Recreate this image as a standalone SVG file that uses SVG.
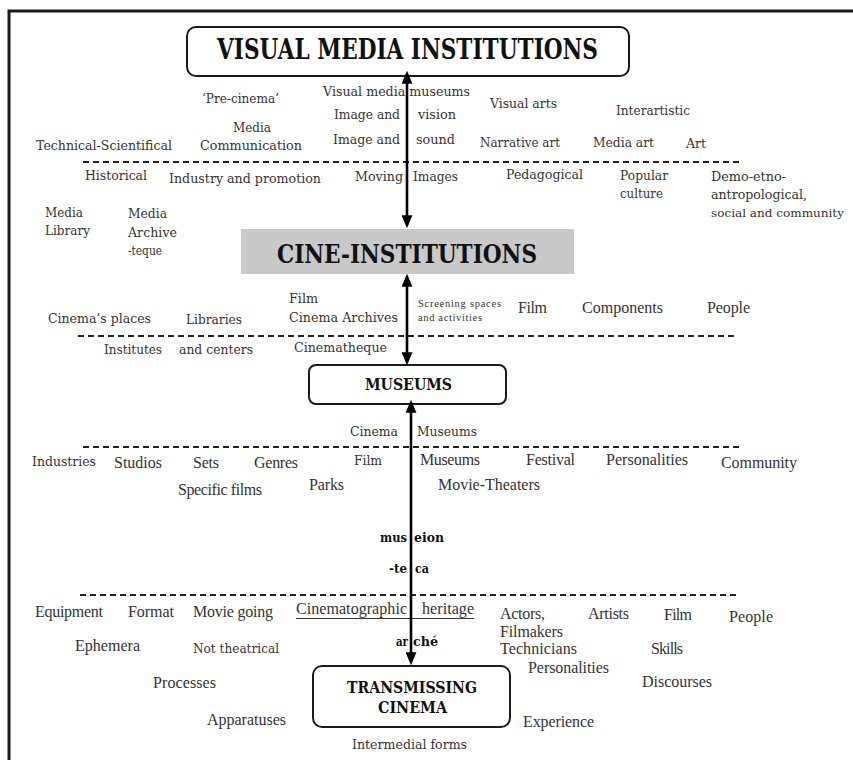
<svg xmlns="http://www.w3.org/2000/svg" width="853" height="760" viewBox="0 0 853 760">
<defs>
<style>
.a{font-family:"DejaVu Serif","Liberation Serif",serif;font-size:13.8px;fill:#333}
.b{font-family:"Liberation Serif","DejaVu Serif",serif;font-size:16px;fill:#333}
.c{font-family:"Liberation Serif","DejaVu Serif",serif;font-size:10.5px;fill:#333}
.k{font-family:"DejaVu Serif","Liberation Serif",serif;font-size:13.5px;font-weight:bold;fill:#111}
.h{font-family:"DejaVu Serif","Liberation Serif",serif;font-weight:bold;fill:#111}
.box{fill:#fff;stroke:#1a1a1a;stroke-width:2}
.dash{stroke:#222;stroke-width:2;stroke-dasharray:6 4;fill:none}
.arr{stroke:#000;stroke-width:2.6;fill:none;marker-start:url(#ah);marker-end:url(#ah)}
</style>
<marker id="ah" viewBox="0 0 12 10" refX="9" refY="5" markerWidth="13" markerHeight="11" markerUnits="userSpaceOnUse" orient="auto-start-reverse">
<path d="M0,0 L12,5 L0,10 z" fill="#000"/>
</marker>
</defs>
<rect width="853" height="760" fill="#fff"/>
<path d="M9,770 V11 H860" fill="none" stroke="#1a1a1a" stroke-width="3"/>

<g id="separators">
<line class="dash" x1="83" y1="162" x2="742" y2="162"/>
<line class="dash" x1="78" y1="336" x2="737" y2="336"/>
<line class="dash" x1="83" y1="447" x2="742" y2="447"/>
<line class="dash" x1="80" y1="595" x2="737" y2="595"/>
</g>

<g id="visual-media-institutions">
<rect class="box" x="187" y="27" width="442" height="49" rx="9"/>
<text class="h" x="217" y="59" font-size="27" textLength="381" lengthAdjust="spacingAndGlyphs">VISUAL MEDIA INSTITUTIONS</text>
</g>
<g id="cine-institutions">
<rect x="241" y="229" width="333" height="45" fill="#c9c9c9"/>
<text class="h" x="277" y="263" font-size="26" textLength="260" lengthAdjust="spacingAndGlyphs">CINE-INSTITUTIONS</text>
</g>
<g id="museums">
<rect class="box" x="309" y="365" width="197" height="39" rx="7"/>
<text class="h" x="365" y="390" font-size="16.5" textLength="87" lengthAdjust="spacingAndGlyphs">MUSEUMS</text>
</g>
<g id="transmissing-cinema">
<rect class="box" x="313" y="666" width="197" height="61" rx="9"/>
<text class="h" font-size="16.5"><tspan x="347" y="693" textLength="130" lengthAdjust="spacingAndGlyphs">TRANSMISSING</tspan> <tspan x="378" y="713" textLength="69" lengthAdjust="spacingAndGlyphs">CINEMA</tspan></text>
</g>

<g id="labels-visual-media">
<text class="a" x="202" y="103" textLength="77" lengthAdjust="spacingAndGlyphs">‘Pre-cinema’</text>
<text class="a" x="323" y="96" textLength="147" lengthAdjust="spacingAndGlyphs">Visual media museums</text>
<text class="a"><tspan x="334" y="119" textLength="66" lengthAdjust="spacingAndGlyphs">Image and</tspan> <tspan x="418" y="119" textLength="38" lengthAdjust="spacingAndGlyphs">vision</tspan></text>
<text class="a"><tspan x="333" y="144" textLength="67" lengthAdjust="spacingAndGlyphs">Image and</tspan> <tspan x="416" y="144" textLength="39" lengthAdjust="spacingAndGlyphs">sound</tspan></text>
<text class="a"><tspan x="233" y="132" textLength="38" lengthAdjust="spacingAndGlyphs">Media</tspan> <tspan x="200" y="150" textLength="102" lengthAdjust="spacingAndGlyphs">Communication</tspan></text>
<text class="a" x="36" y="150" textLength="136" lengthAdjust="spacingAndGlyphs">Technical-Scientifical</text>
<text class="a" x="490" y="108" textLength="67" lengthAdjust="spacingAndGlyphs">Visual arts</text>
<text class="a" x="616" y="115" textLength="74" lengthAdjust="spacingAndGlyphs">Interartistic</text>
<text class="a" x="480" y="147" textLength="80" lengthAdjust="spacingAndGlyphs">Narrative art</text>
<text class="a" x="593" y="147" textLength="61" lengthAdjust="spacingAndGlyphs">Media art</text>
<text class="a" x="686" y="148" textLength="20" lengthAdjust="spacingAndGlyphs">Art</text>
</g>

<g id="labels-cine-institutions-upper">
<text class="a" x="85" y="180" textLength="62" lengthAdjust="spacingAndGlyphs">Historical</text>
<text class="a" x="169" y="183" textLength="152" lengthAdjust="spacingAndGlyphs">Industry and promotion</text>
<text class="a"><tspan x="355" y="181" textLength="48" lengthAdjust="spacingAndGlyphs">Moving</tspan> <tspan x="413" y="181" textLength="45" lengthAdjust="spacingAndGlyphs">Images</tspan></text>
<text class="a" x="506" y="179" textLength="77" lengthAdjust="spacingAndGlyphs">Pedagogical</text>
<text class="a"><tspan x="620" y="180" textLength="48" lengthAdjust="spacingAndGlyphs">Popular</tspan> <tspan x="620" y="198" textLength="43" lengthAdjust="spacingAndGlyphs">culture</tspan></text>
<text class="a"><tspan x="711" y="181" textLength="75" lengthAdjust="spacingAndGlyphs">Demo-etno-</tspan> <tspan x="711" y="199" textLength="96" lengthAdjust="spacingAndGlyphs">antropological,</tspan></text>
<text class="a" x="711" y="217" style="font-size:11.8px" textLength="133" lengthAdjust="spacingAndGlyphs">social and community</text>
<text class="a"><tspan x="45" y="217" textLength="38" lengthAdjust="spacingAndGlyphs">Media</tspan> <tspan x="45" y="235" textLength="45" lengthAdjust="spacingAndGlyphs">Library</tspan></text>
<text class="a"><tspan x="128" y="218" textLength="39" lengthAdjust="spacingAndGlyphs">Media</tspan> <tspan x="128" y="237" textLength="49" lengthAdjust="spacingAndGlyphs">Archive</tspan> <tspan x="128" y="255" textLength="34" lengthAdjust="spacingAndGlyphs">-teque</tspan></text>
</g>

<g id="labels-cine-institutions-lower">
<text class="a"><tspan x="289" y="303" textLength="29" lengthAdjust="spacingAndGlyphs">Film</tspan> <tspan x="289" y="322" textLength="109" lengthAdjust="spacingAndGlyphs">Cinema Archives</tspan></text>
<text class="a" x="48" y="323" textLength="103" lengthAdjust="spacingAndGlyphs">Cinema’s places</text>
<text class="a" x="186" y="324" textLength="56" lengthAdjust="spacingAndGlyphs">Libraries</text>
<text class="c"><tspan x="418" y="307" textLength="83">Screening spaces</tspan> <tspan x="418" y="321" textLength="64">and activities</tspan></text>
<text class="b" x="518" y="313" textLength="29">Film</text>
<text class="b" x="582" y="313" textLength="81">Components</text>
<text class="b" x="707" y="313" textLength="43">People</text>
<text class="a"><tspan x="104" y="354" textLength="58" lengthAdjust="spacingAndGlyphs">Institutes</tspan> <tspan x="179" y="354" textLength="74" lengthAdjust="spacingAndGlyphs">and centers</tspan></text>
<text class="a" x="294" y="352" textLength="93" lengthAdjust="spacingAndGlyphs">Cinematheque</text>
</g>

<g id="labels-museums">
<text class="a"><tspan x="350" y="436" textLength="48" lengthAdjust="spacingAndGlyphs">Cinema</tspan> <tspan x="417" y="436" textLength="60" lengthAdjust="spacingAndGlyphs">Museums</tspan></text>
<text class="a" x="32" y="466" textLength="64" lengthAdjust="spacingAndGlyphs">Industries</text>
<text class="b" x="114" y="468" textLength="48">Studios</text>
<text class="b" x="193" y="468" textLength="26">Sets</text>
<text class="b" x="254" y="468" textLength="44">Genres</text>
<text class="a" x="354" y="465" textLength="28" lengthAdjust="spacingAndGlyphs">Film</text>
<text class="b" x="420" y="465" textLength="60">Museums</text>
<text class="b" x="526" y="465" textLength="49">Festival</text>
<text class="b" x="606" y="465" textLength="82">Personalities</text>
<text class="b" x="721" y="468" textLength="76">Community</text>
<text class="b" x="178" y="495" textLength="84">Specific films</text>
<text class="b" x="309" y="490" textLength="35">Parks</text>
<text class="b" x="438" y="490" textLength="102">Movie-Theaters</text>
</g>

<g id="labels-etymology">
<text class="k"><tspan x="380" y="542" textLength="27" lengthAdjust="spacingAndGlyphs">mus</tspan><tspan x="414" y="542" textLength="30" lengthAdjust="spacingAndGlyphs">eion</tspan></text>
<text class="k"><tspan x="389" y="573" textLength="18" lengthAdjust="spacingAndGlyphs">-te</tspan><tspan x="415" y="573" textLength="14" lengthAdjust="spacingAndGlyphs">ca</tspan></text>
<text class="k"><tspan x="396" y="646" textLength="12" lengthAdjust="spacingAndGlyphs">ar</tspan><tspan x="413" y="646" textLength="25" lengthAdjust="spacingAndGlyphs">ché</tspan></text>
</g>

<g id="labels-transmissing">
<text class="b" x="35" y="617" textLength="68">Equipment</text>
<text class="b" x="128" y="617" textLength="46">Format</text>
<text class="b" x="193" y="617" textLength="80">Movie going</text>
<text class="b"><tspan x="296" y="614" textLength="111">Cinematographic</tspan> <tspan x="422" y="614" textLength="52">heritage</tspan></text>
<line x1="296" y1="618.5" x2="474" y2="618.5" stroke="#333" stroke-width="1"/>
<text class="b"><tspan x="500" y="619" textLength="45">Actors,</tspan> <tspan x="500" y="637" textLength="63">Filmakers</tspan> <tspan x="500" y="654" textLength="77">Technicians</tspan></text>
<text class="b" x="588" y="619" textLength="41">Artists</text>
<text class="b" x="664" y="620" textLength="28">Film</text>
<text class="b" x="729" y="622" textLength="44">People</text>
<text class="b" x="75" y="651" textLength="65">Ephemera</text>
<text class="a" x="193" y="653" textLength="86" lengthAdjust="spacingAndGlyphs">Not theatrical</text>
<text class="b" x="651" y="654" textLength="32">Skills</text>
<text class="b" x="528" y="673" textLength="81">Personalities</text>
<text class="b" x="153" y="688" textLength="63">Processes</text>
<text class="b" x="642" y="687" textLength="70">Discourses</text>
<text class="b" x="207" y="725" textLength="79">Apparatuses</text>
<text class="b" x="523" y="727" textLength="71">Experience</text>
<text class="a" x="352" y="749" textLength="115" lengthAdjust="spacingAndGlyphs">Intermedial forms</text>
</g>

<g id="connectors">
<line class="arr" x1="407" y1="74" x2="407" y2="225"/>
<line class="arr" x1="407" y1="277" x2="407" y2="362"/>
<line class="arr" x1="411" y1="403" x2="411" y2="662"/>
</g>
</svg>
